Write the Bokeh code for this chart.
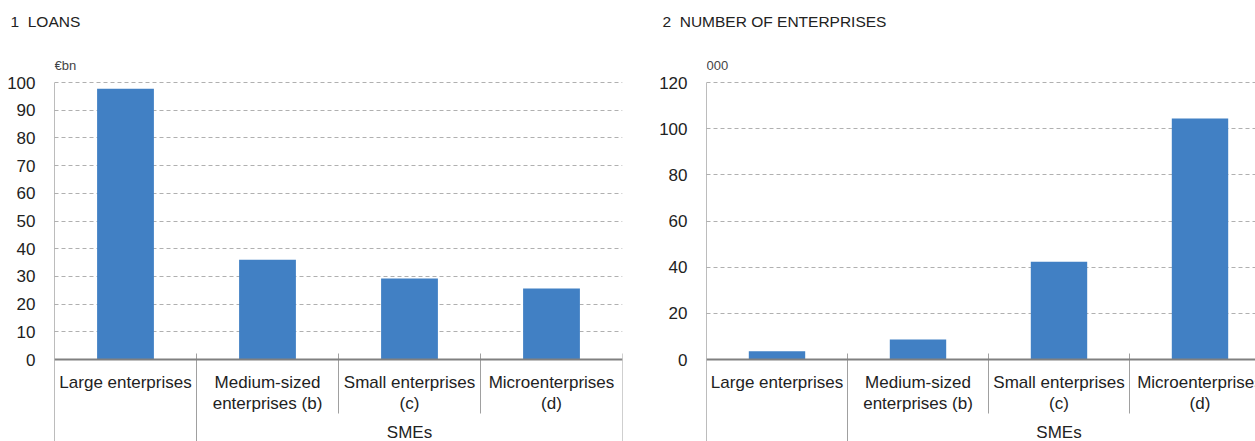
from bokeh.plotting import figure
from bokeh.models import Range1d, FixedTicker, Span
from bokeh.layouts import row, column
from bokeh.embed import file_html
from bokeh.resources import INLINE
from bokeh.core.properties import value

# ---------------- data ----------------
titles = ["1\u00a0\u00a0LOANS", "2\u00a0\u00a0NUMBER OF ENTERPRISES"]
units = ["€bn", "000"]
categories = ["Large enterprises", "Medium-sized\nenterprises (b)",
              "Small enterprises\n(c)", "Microenterprises\n(d)"]
group_label = "SMEs"
loans = [97.7, 36.0, 29.2, 25.6]          # €bn
enterprises = [3.6, 8.7, 42.3, 104.4]      # thousands
loans_ticks = [0, 10, 20, 30, 40, 50, 60, 70, 80, 90, 100]
ent_ticks = [0, 20, 40, 60, 80, 100, 120]

BAR = "#4180c4"
FONT = "Liberation Sans"
TXT = "#222222"

W = 1255
HEAD_H = 58          # height of the strip holding the panel titles
FIG_H = 441 - HEAD_H


def panel(unit, vals, ticks, fig_w, border_left, cat_px, frame_w):
    frame_top_px = HEAD_H
    frame_bot_px = 441
    zero_px = 359
    toptick_px = 82
    per_px = ticks[-1] / (zero_px - toptick_px)   # data units per pixel
    ymax = ticks[-1] + (toptick_px - frame_top_px) * per_px
    ymin = -(frame_bot_px - zero_px) * per_px
    n = len(vals)
    xmax = frame_w / cat_px

    p = figure(width=fig_w, height=FIG_H, output_backend="svg", toolbar_location=None,
               x_range=Range1d(0, xmax), y_range=Range1d(ymin, ymax),
               min_border_left=border_left, min_border_right=fig_w - border_left - frame_w,
               min_border_top=0, min_border_bottom=0)
    p.outline_line_color = None
    p.background_fill_color = "white"
    p.border_fill_color = "white"
    p.xaxis.visible = False
    p.xgrid.visible = False

    ax = p.yaxis[0]
    ax.ticker = FixedTicker(ticks=ticks)
    ax.axis_line_color = None
    ax.major_tick_line_color = None
    ax.minor_tick_line_color = None
    ax.major_label_standoff = 13
    ax.major_label_text_font = FONT
    ax.major_label_text_font_size = "17px"
    ax.major_label_text_color = TXT

    p.ygrid.ticker = FixedTicker(ticks=ticks[1:])
    p.ygrid.grid_line_color = "#b0b0b0"
    p.ygrid.grid_line_dash = "4 3"
    p.ygrid.grid_line_width = 1

    xs = [i + 0.5 for i in range(n)]
    p.vbar(x=xs, top=vals, width=0.4, bottom=0, fill_color=BAR, line_color=None)

    # zero line
    p.add_layout(Span(location=0, dimension="width", line_color="#808080", line_width=2))
    # left axis line
    p.segment(x0=[0], y0=[ymin], x1=[0], y1=[ticks[-1]], line_color="#7a7a7a", line_width=1)

    # category separators
    tick_up = 6 * per_px
    inner_bot = -(413 - zero_px) * per_px
    seps_x = [1, 2, 3, 4][: n]
    seps_y1 = [ymin, inner_bot, inner_bot, ymin][: n]
    p.segment(x0=seps_x, y0=[tick_up] * len(seps_x), x1=seps_x, y1=seps_y1,
              line_color="#a0a0a0", line_width=1)

    # category labels
    l1 = [c.split("\n")[0] for c in categories]
    l2x = [xs[i] for i, c in enumerate(categories) if "\n" in c]
    l2 = [c.split("\n")[1] for c in categories if "\n" in c]
    p.text(x=xs, y=[-(382 - zero_px) * per_px] * n, text=l1, text_align="center",
           text_baseline="middle", text_font=value(FONT), text_font_size="17px", text_color=TXT)
    p.text(x=l2x, y=[-(403 - zero_px) * per_px] * len(l2), text=l2, text_align="center",
           text_baseline="middle", text_font=value(FONT), text_font_size="17px", text_color=TXT)
    p.text(x=[(1 + n) / 2], y=[-(432 - zero_px) * per_px], text=[group_label], text_align="center",
           text_baseline="middle", text_font=value(FONT), text_font_size="17px", text_color=TXT)

    # unit label
    p.text(x=[0], y=[ticks[-1] + (toptick_px - 65) * per_px], text=[unit], text_align="left",
           text_baseline="middle", text_font=value(FONT), text_font_size="13px", text_color="#444444")
    return p


# title strip (pixel coordinates, y measured from the top)
head = figure(width=W, height=HEAD_H, output_backend="svg", toolbar_location=None,
              x_range=Range1d(0, W), y_range=Range1d(HEAD_H, 0),
              min_border_left=0, min_border_right=0, min_border_top=0, min_border_bottom=0)
head.axis.visible = False
head.grid.visible = False
head.outline_line_color = None
head.text(x=[10, 662], y=[21, 21], text=titles, text_align="left", text_baseline="middle",
          text_font=value(FONT), text_font_size="15.5px", text_color=TXT)

p1 = panel(units[0], loans, loans_ticks, fig_w=640, border_left=54, cat_px=142, frame_w=568)
p2 = panel(units[1], enterprises, ent_ticks, fig_w=615, border_left=66, cat_px=141, frame_w=549)

layout = column(head, row(p1, p2))
open("out.html", "w").write(file_html(layout, INLINE))
